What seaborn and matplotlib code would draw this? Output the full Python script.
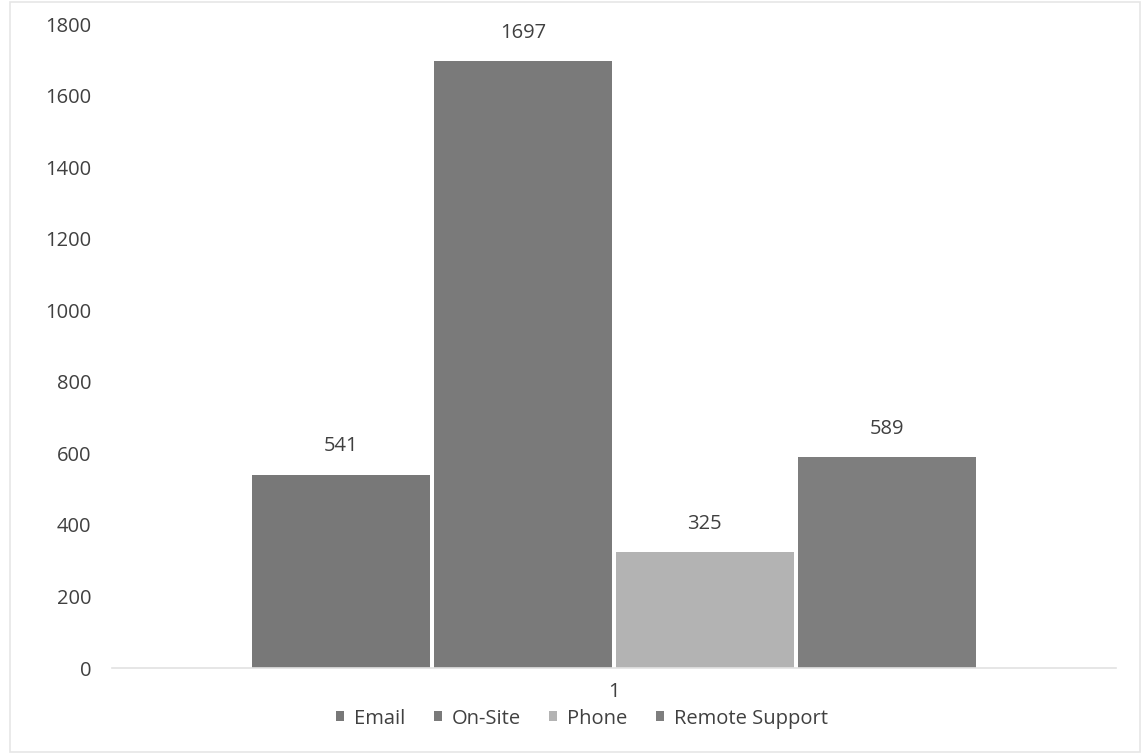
import matplotlib
matplotlib.use("Agg")
import matplotlib.pyplot as plt
import seaborn as sns
import pandas as pd
from matplotlib.patches import Rectangle

# Ticket counts by support channel
categories = ["1"]
channels = ["Email", "On-Site", "Phone", "Remote Support"]
tickets = [541, 1697, 325, 589]
colors = ["#787878", "#7a7a7a", "#b3b3b3", "#7e7e7e"]
y_ticks = [0, 200, 400, 600, 800, 1000, 1200, 1400, 1600, 1800]

df = pd.DataFrame({"group": categories * len(channels),
                   "channel": channels,
                   "tickets": tickets})

sns.set_theme(style="white")
plt.rcParams["font.family"] = ["Open Sans", "DejaVu Sans"]

fig = plt.figure(figsize=(11.43, 7.54), dpi=100)
ax = fig.add_axes([0.098, 0.114, 0.878, 0.854])

sns.barplot(data=df, x="group", y="tickets", hue="channel",
            hue_order=channels, palette=colors, width=0.725, gap=0.02,
            saturation=1, edgecolor="none", linewidth=0, ax=ax, legend=False)

for cont in ax.containers:
    ax.bar_label(cont, fmt="%d", padding=13, fontsize=14.5, color="#404040")

ax.set_ylim(0, 1800)
ax.set_yticks(y_ticks)
ax.set_yticklabels([str(v) for v in y_ticks])
ax.set_xlabel("")
ax.set_ylabel("")
ax.tick_params(axis="y", length=0, pad=15, labelsize=14.5, labelcolor="#404040")
ax.tick_params(axis="x", length=0, pad=10, labelsize=14.5, labelcolor="#404040")

for side in ["top", "right", "left"]:
    ax.spines[side].set_visible(False)
ax.spines["bottom"].set_color("#e2e2e2")
ax.spines["bottom"].set_linewidth(1.2)

handles = [Rectangle((0, 0), 1, 1, facecolor=c, edgecolor="none") for c in colors]
fig.legend(handles, channels, loc="center", bbox_to_anchor=(0.509, 0.047), ncol=4,
           frameon=False, fontsize=14.5, handlelength=0.4, handleheight=0.4,
           handletextpad=0.5, columnspacing=1.4, labelcolor="#404040")

# light frame around the chart area
fig.add_artist(Rectangle((0.009, 0.003), 0.988, 0.994, transform=fig.transFigure,
                         fill=False, edgecolor="#e6e6e6", linewidth=1.2))

fig.savefig("out.png", dpi=100, facecolor="white")
